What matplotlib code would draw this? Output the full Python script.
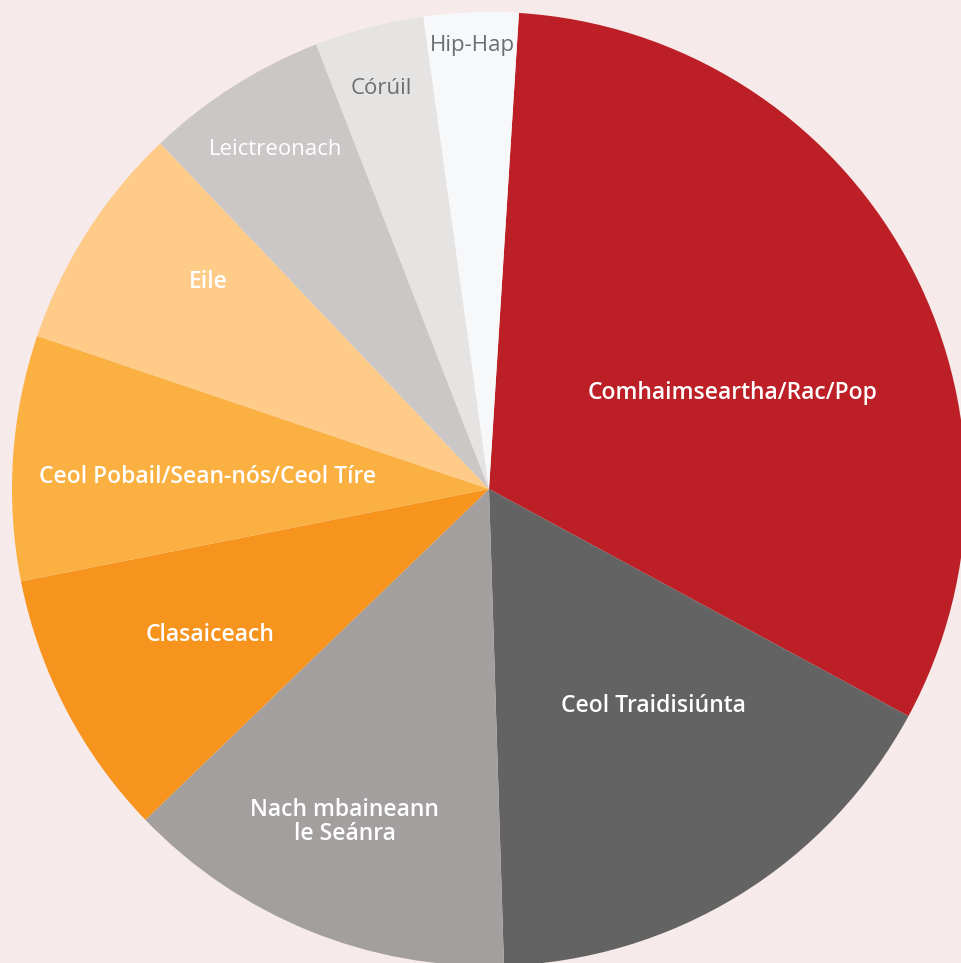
import math
import matplotlib
matplotlib.use("Agg")
import matplotlib.pyplot as plt

# genre shares (%), clockwise from the top
genres = ["Comhaimseartha/Rac/Pop", "Ceol Traidisiúnta", "Nach mbaineann\nle Seánra",
          "Clasaiceach", "Ceol Pobail/Sean-nós/Ceol Tíre", "Eile",
          "Leictreonach", "Córúil", "Hip-Hap"]
shares = [31.9, 16.6, 13.3, 9.1, 8.3, 7.7, 6.2, 3.7, 3.2]

colors = ["#bc2026", "#636363", "#a39f9e", "#f7941e", "#fbb042",
          "#fecb88", "#cbc7c6", "#e6e3e3", "#f7f8fa"]
text_colors = ["white"] * 7 + ["#6d6e70", "#6d6e70"]

# label placement: radius (fraction of pie radius) and clockwise angle tweak in degrees
label_r = [0.55, 0.57, 0.76, 0.66, 0.59, 0.73, 0.84, 0.87, 0.93]
label_da = [7.4, -5.5, 1.3, 0, -1.3, 3.8, 0.3, -0.4, 0]

BG = "#f7eaea"

fig = plt.figure(figsize=(9.62, 9.63), dpi=100)
fig.patch.set_facecolor(BG)
R = 477
ax = fig.add_axes([(489 - R) / 962, (963 - 489 - R) / 963, 2 * R / 962, 2 * R / 963])
ax.set_facecolor(BG)

wedges, _ = ax.pie(shares, colors=colors, startangle=90 - 3.6, counterclock=False,
                   radius=1, wedgeprops=dict(linewidth=0))
ax.set_xlim(-1, 1)
ax.set_ylim(-1, 1)
ax.axis("off")

for w, lab, tc, r, da in zip(wedges, genres, text_colors, label_r, label_da):
    mid = math.radians((w.theta1 + w.theta2) / 2 - da)
    light = lab in ("Leictreonach", "Córúil", "Hip-Hap")
    ax.text(r * math.cos(mid), r * math.sin(mid), lab, ha="center", va="center",
            color=tc, fontsize=16.5 if not light else 16, linespacing=1.0,
            family="Open Sans", fontweight="normal" if light else "semibold")

fig.savefig("out.png", dpi=100, facecolor=BG)
